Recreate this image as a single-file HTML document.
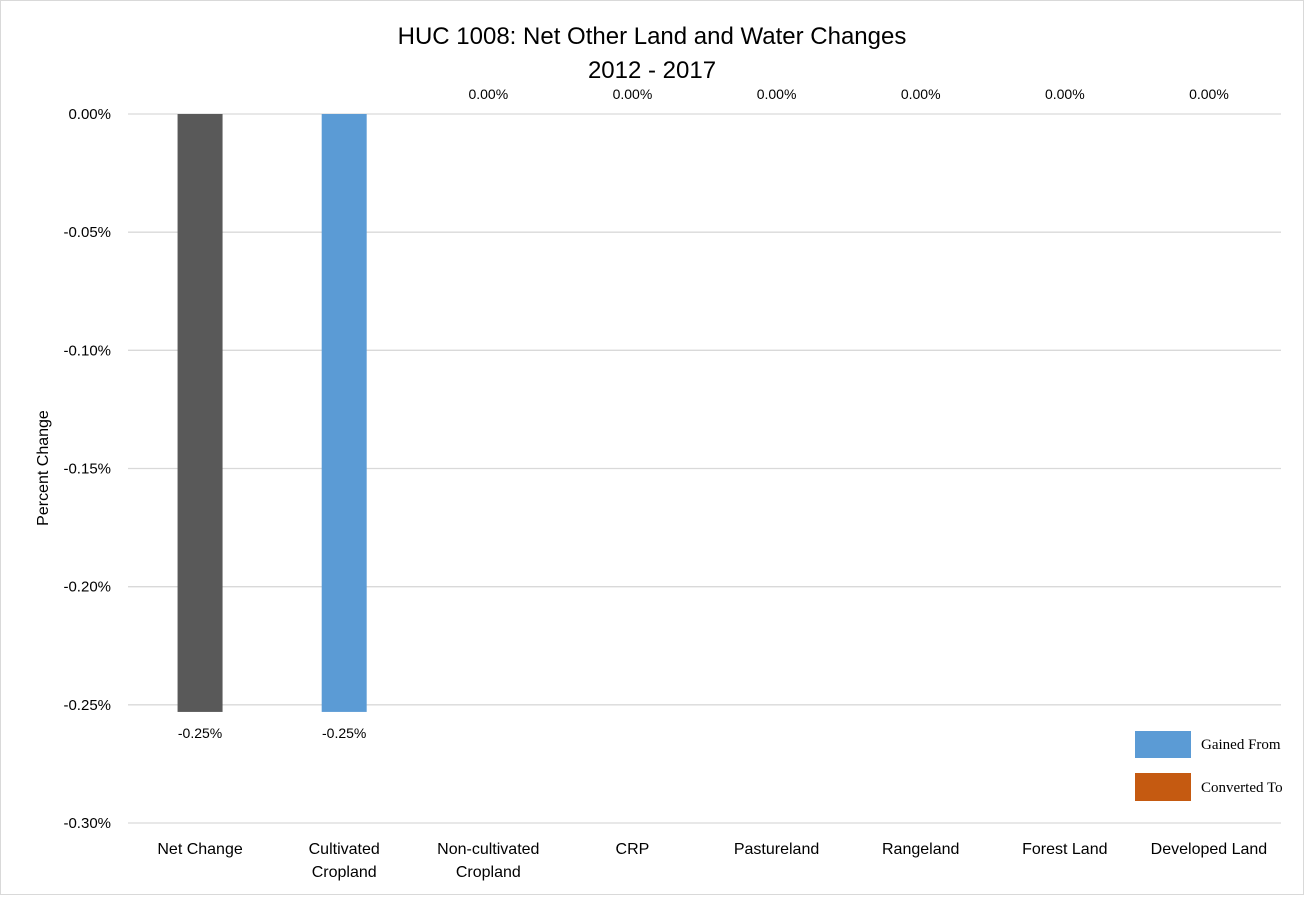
<!DOCTYPE html>
<html><head><meta charset="utf-8"><style>
body{margin:0;background:#fff}
svg text{font-family:"Liberation Sans",sans-serif;fill:#000}
</style></head><body>
<svg width="1305" height="896" xmlns="http://www.w3.org/2000/svg">
<rect x="0.5" y="0.5" width="1303" height="894" fill="#fff" stroke="#d9d9d9"/>
<text x="652" y="44" font-size="24" text-anchor="middle">HUC 1008: Net Other Land and Water Changes</text>
<text x="652" y="78" font-size="24" text-anchor="middle">2012 - 2017</text>
<text transform="translate(48,468) rotate(-90)" font-size="16" text-anchor="middle">Percent Change</text>
<g id="grid"></g><g id="bars"></g><g id="labels"></g>
<g>
<rect x="1135" y="731" width="56" height="27" fill="#5b9bd5"/>
<text x="1201" y="749" font-size="15" style="font-family:'Liberation Serif',serif">Gained From</text>
<rect x="1135" y="773" width="56" height="28" fill="#c55a11"/>
<text x="1201" y="792" font-size="15" style="font-family:'Liberation Serif',serif">Converted To</text>
</g>
</svg>
<script>
const categories=[["Net Change"],["Cultivated","Cropland"],["Non-cultivated","Cropland"],["CRP"],["Pastureland"],["Rangeland"],["Forest Land"],["Developed Land"]];
const values=[-0.253,-0.253,0,0,0,0,0,0];
const valueLabels=["-0.25%","-0.25%","0.00%","0.00%","0.00%","0.00%","0.00%","0.00%"];
const yTicks=[0,-0.05,-0.10,-0.15,-0.20,-0.25,-0.30];
const yTickLabels=["0.00%","-0.05%","-0.10%","-0.15%","-0.20%","-0.25%","-0.30%"];
const colors=["#595959","#5b9bd5","#5b9bd5","#5b9bd5","#5b9bd5","#5b9bd5","#5b9bd5","#5b9bd5"];
const NS="http://www.w3.org/2000/svg";
const x0=128,x1=1281,yTop=114,yBot=823;
const y=v=>yTop+(0-v)/0.30*(yBot-yTop);
const bw=(x1-x0)/categories.length;
const xc=i=>x0+bw*(i+0.5);
function mk(tag,attrs,parent){const e=document.createElementNS(NS,tag);for(const k in attrs)e.setAttribute(k,attrs[k]);document.getElementById(parent).appendChild(e);return e;}
yTicks.forEach((t,i)=>{
 const l=mk('line',{x1:x0,x2:x1,y1:y(t),y2:y(t),stroke:'#d9d9d9','stroke-width':1.3},'grid');
 
 
 const tx=mk('text',{x:111,y:y(t)+5,'font-size':15,'text-anchor':'end'},'grid');
 tx.textContent=yTickLabels[i];
 
 
});
categories.forEach((c,i)=>{
 const v=values[i];
 if(v!==0){
  const r=mk('rect',{x:xc(i)-22.5,width:45,y:Math.min(y(0),y(v)),height:Math.abs(y(v)-y(0)),fill:colors[i]},'bars');
  
  
 }
 const ly=v<0?y(v)+26:y(0)-15;
 const vl=mk('text',{x:xc(i),y:ly,'font-size':14,'text-anchor':'middle'},'labels');
 vl.textContent=valueLabels[i];
 
 
 c.forEach((line,j)=>{
  const t=mk('text',{x:xc(i),y:854+j*23,'font-size':16,'text-anchor':'middle'},'labels');
  t.textContent=line;
  
  
 });
});
</script>
</body></html>
